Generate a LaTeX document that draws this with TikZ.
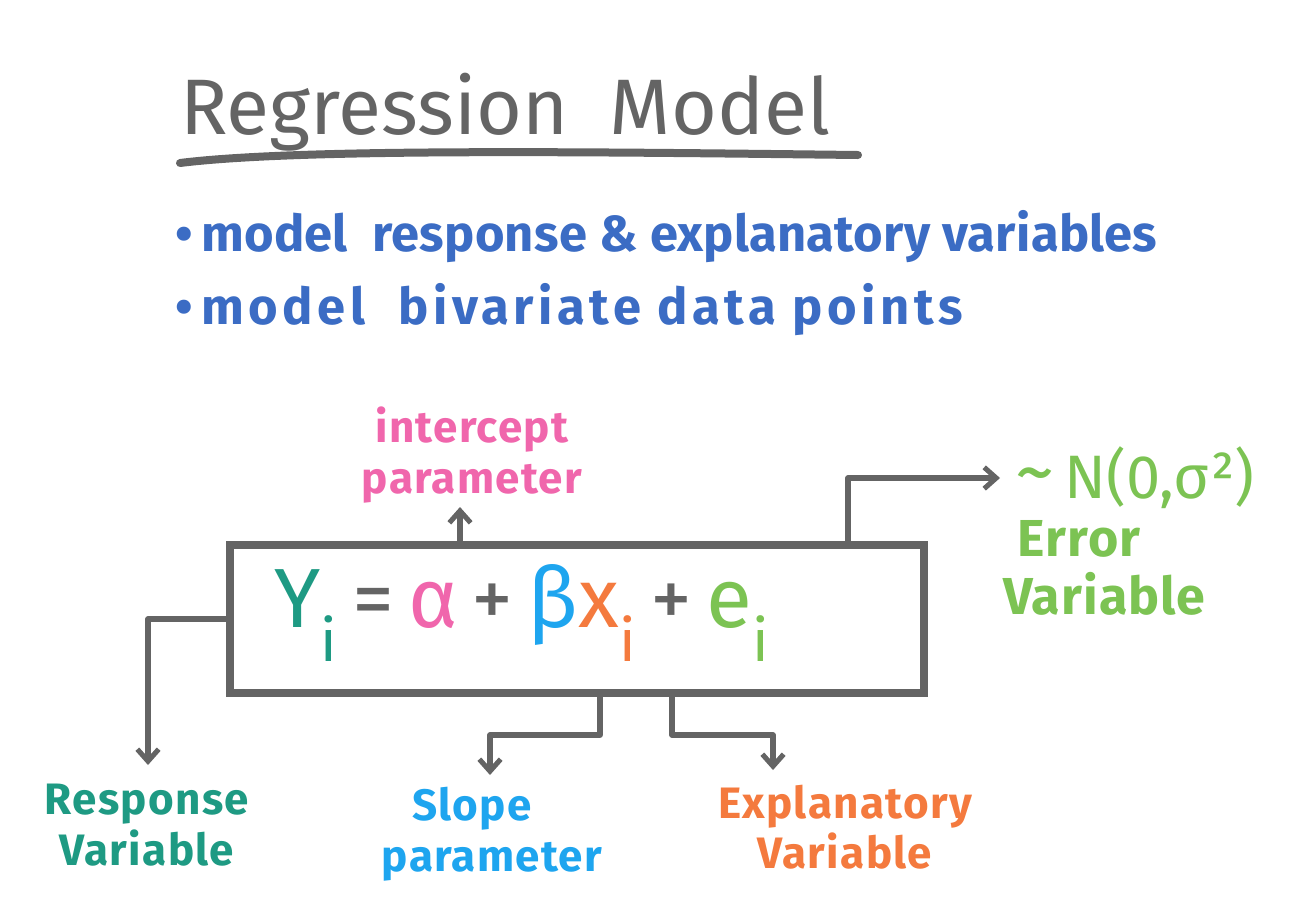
\documentclass[tikz,border=0pt]{standalone}
\usepackage{fontspec}
\setmainfont{Fira Sans}
\usetikzlibrary{arrows.meta}
\definecolor{lc}{HTML}{646464}
\definecolor{bl}{HTML}{3B6CC4}
\definecolor{tl}{HTML}{1E9A83}
\definecolor{pk}{HTML}{F066AC}
\definecolor{lb}{HTML}{1EA5EF}
\definecolor{og}{HTML}{F47A3E}
\definecolor{gr}{HTML}{7CC353}
\tikzset{
  conn/.style={draw=lc, line width=3.8pt, line join=round, line cap=round,
    -{Straight Barb[length=9pt,width=16pt,line width=3.8pt]}},
  lbl/.style={font=\fontsize{33}{38}\selectfont\bfseries\addfontfeature{LetterSpace=3}, align=center, inner sep=0pt},
  bul/.style={anchor=base west, inner sep=0pt, text=bl},
}
\begin{document}
\begin{tikzpicture}[x=0.75pt,y=-0.75pt]
\useasboundingbox (0,0) rectangle (1312,922);
% title
\node[anchor=base west, inner sep=0pt, text=lc, font=\fontsize{59}{60}\selectfont] (title) at (180,134) {Regression\ \ Model};
\coordinate (ul1) at (180,163);
\coordinate (ul2) at (858,155);
\draw[lc, line width=6pt, line cap=round] (ul1) .. controls (300,148) and (600,152) .. (ul2);
% bullets
\node[bul, font=\fontsize{38}{40}\selectfont\bfseries\addfontfeature{LetterSpace=0.5}] (b1) at (175,251) {•\,model\ \ response \& explanatory variables};
\node[bul, font=\fontsize{38}{40}\selectfont\bfseries\addfontfeature{LetterSpace=9}] (b2) at (175,324) {•\,model\ \ bivariate data points};
% box
\node[draw=lc, line width=6pt, minimum width=521pt, minimum height=111pt, inner sep=0pt] (box) at (577,619) {};
\node[inner sep=0pt, font=\fontsize{63}{66}\selectfont] (eq) at (522,613)
  {\textcolor{tl}{Y\textsubscript{i}}\,\textcolor{lc}{=}\,\textcolor{pk}{α}\,\textcolor{lc}{+}\,\textcolor{lb}{β}\textcolor{og}{x\textsubscript{i}}\,\textcolor{lc}{+}\,\textcolor{gr}{e\textsubscript{i}}};
% labels
\node[lbl, text=pk] (ic) at (472,455) {intercept\\parameter};
\node[inner sep=0pt, text=gr, anchor=west, font=\fontsize{46}{50}\selectfont] (nd) at (1015,478) {{\fontsize{60}{60}\selectfont\textasciitilde}\,N(0,σ²)};
\node[lbl, text=gr, anchor=west, align=left, font=\fontsize{39}{43}\selectfont\bfseries\addfontfeature{LetterSpace=2}] (ev) at (1003,568) {\hspace*{11pt}Error\\Variable};
\node[lbl, text=tl] (rv) at (147,825) {Response\\Variable};
\node[lbl, text=lb] (sp) at (492,834) {\hspace*{-30pt}Slope\\parameter};
\node[lbl, text=og] (xv) at (845,827) {Explanatory\\Variable};
% connector points
\coordinate (icT) at (460,507);
\coordinate (eX) at (848,478);
\coordinate (eT) at (1000,478);
\coordinate (rT) at (148,765);
\coordinate (s1) at (600,735);
\coordinate (sT) at (490,775);
\coordinate (x1) at (672,735);
\coordinate (xT) at (773,770);
% connectors
\draw[conn] (box.north -| icT) -- (icT);
\draw[conn] (box.north -| eX) |- (eT);
\draw[conn] (box.west) -| (rT);
\draw[conn] (box.south -| s1) -- (s1) -| (sT);
\draw[conn] (box.south -| x1) -- (x1) -| (xT);
\end{tikzpicture}
\end{document}
